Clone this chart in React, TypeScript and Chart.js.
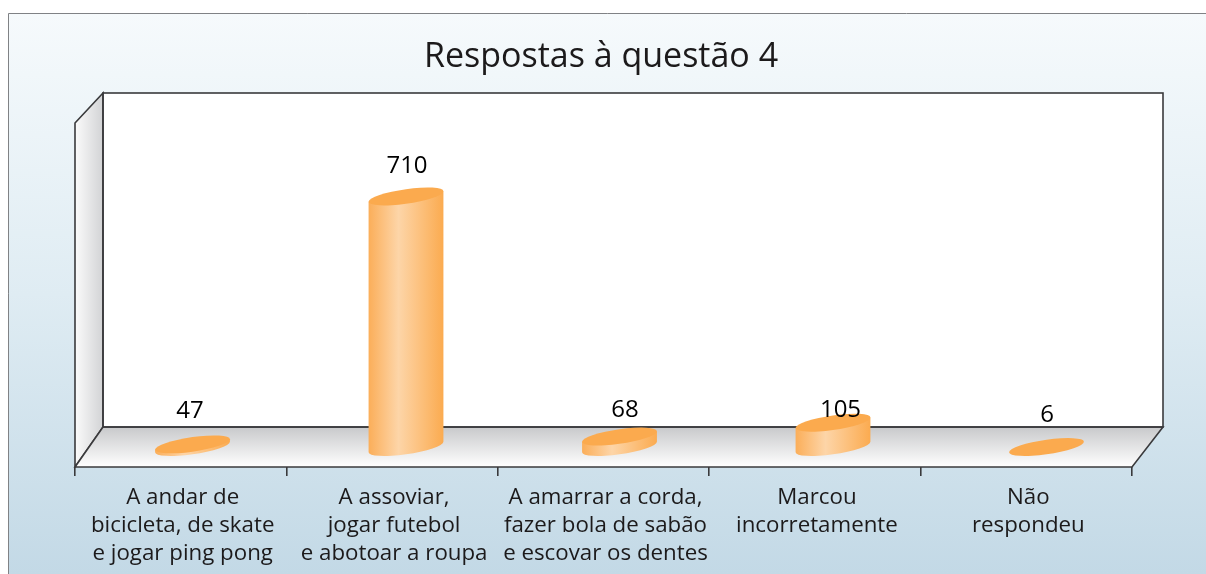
import React, { useEffect, useRef } from "react";
import { Chart, registerables } from "chart.js";

Chart.register(...registerables);

const categories: string[][] = [
  ["A andar de", "bicicleta, de skate", "e jogar ping pong"],
  ["A assoviar,", "jogar futebol", "e abotoar a roupa"],
  ["A amarrar a corda,", "fazer bola de sabão", "e escovar os dentes"],
  ["Marcou", "incorretamente"],
  ["Não", "respondeu"],
];
const responses: number[] = [47, 710, 68, 105, 6];
const chartTitle = "Respostas à questão 4";
const axisMin = 40;
const axisMax = 960;
// Hand placement of the value captions relative to each bar's top, as in the source figure.
const captionLift: number[] = [33, 30, 26, 13, 32];
const captionShift: number[] = [-2.5, 1, 5.5, 7.5, 0.5];

const INK = "#1c1a1b";
const LINE = "#3a3a3c";
const FONT = "'Open Sans', sans-serif";
const DEPTH_X = 28;
const DEPTH_Y_FLOOR = 40;
const DEPTH_Y_TOP = 30;
const DEPTH_X_RIGHT = 31;

const stagePlugin = {
  id: "stage",
  beforeDraw(chart: any) {
    const { ctx, chartArea, width, height } = chart;
    const { left, right, top, bottom } = chartArea;
    ctx.save();
    ctx.fillStyle = "#ffffff";
    ctx.fillRect(0, 0, width, height);
    const bg = ctx.createLinearGradient(0, 13, 0, height);
    bg.addColorStop(0, "#f6fafc");
    bg.addColorStop(0.5, "#dfecf3");
    bg.addColorStop(1, "#c3d9e6");
    ctx.fillStyle = bg;
    ctx.fillRect(8, 13, width - 8, height - 13);
    ctx.strokeStyle = "#808285";
    ctx.lineWidth = 1;
    ctx.beginPath();
    ctx.moveTo(8.5, height);
    ctx.lineTo(8.5, 13.5);
    ctx.lineTo(width, 13.5);
    ctx.stroke();

    const bl = left + DEPTH_X;
    const br = right + DEPTH_X_RIGHT;
    const bt = top - DEPTH_Y_TOP;
    const bb = bottom - DEPTH_Y_FLOOR;

    ctx.lineWidth = 1.6;
    ctx.strokeStyle = LINE;
    ctx.lineJoin = "miter";

    ctx.fillStyle = "#ffffff";
    ctx.fillRect(bl, bt, br - bl, bb - bt);

    const wall = ctx.createLinearGradient(left, 0, bl, 0);
    wall.addColorStop(0, "#fbfbfb");
    wall.addColorStop(1, "#d2d3d5");
    ctx.fillStyle = wall;
    ctx.beginPath();
    ctx.moveTo(left, top);
    ctx.lineTo(bl, bt);
    ctx.lineTo(bl, bb);
    ctx.lineTo(left, bottom);
    ctx.closePath();
    ctx.fill();
    ctx.stroke();

    const floor = ctx.createLinearGradient(0, bb, 0, bottom);
    floor.addColorStop(0, "#c8c9cb");
    floor.addColorStop(1, "#ffffff");
    ctx.fillStyle = floor;
    ctx.beginPath();
    ctx.moveTo(bl, bb);
    ctx.lineTo(br, bb);
    ctx.lineTo(right, bottom);
    ctx.lineTo(left, bottom);
    ctx.closePath();
    ctx.fill();
    ctx.stroke();

    ctx.strokeRect(bl, bt, br - bl, bb - bt);
    ctx.restore();
  },
};

const SHEAR = 0.14;
const MINOR = 7.3;
const SPREAD = 213.5 / 211.4;

const cylinderPlugin = {
  id: "cylinders",
  beforeDatasetDraw(chart: any, args: any) {
    const { ctx, chartArea, scales } = chart;
    const meta = args.meta;
    const y = scales.y;
    const x0 = scales.x.getPixelForValue(0);
    meta.data.forEach((el: any, i: number) => {
      const cx = x0 + 11.8 + (el.x - x0) * SPREAD;
      const a = el.width / 2;
      const base = el.base - DEPTH_Y_FLOOR / 2;
      const head = Math.min(y.getPixelForValue(responses[i]), chartArea.bottom) - DEPTH_Y_FLOOR / 2;
      const local = head - base;

      ctx.save();
      ctx.translate(cx, base);
      ctx.transform(1, -SHEAR, 0, 1, 0, 0);

      if (local < 0) {
        const g = ctx.createLinearGradient(-a, 0, a, 0);
        g.addColorStop(0, "#fbae59");
        g.addColorStop(0.4, "#fdd5a8");
        g.addColorStop(1, "#fbab50");
        ctx.fillStyle = g;
        ctx.beginPath();
        ctx.moveTo(-a, local);
        ctx.lineTo(-a, 0);
        ctx.ellipse(0, 0, a, MINOR, 0, Math.PI, 0, true);
        ctx.lineTo(a, local);
        ctx.closePath();
        ctx.fill();
      }
      ctx.fillStyle = "#fbaa4e";
      ctx.beginPath();
      ctx.ellipse(0, local, a, MINOR, 0, 0, Math.PI * 2);
      ctx.fill();
      ctx.restore();

      ctx.save();
      ctx.fillStyle = "#000000";
      ctx.font = `24px ${FONT}`;
      ctx.textAlign = "center";
      ctx.textBaseline = "middle";
      ctx.fillText(String(responses[i]), cx + captionShift[i], head - captionLift[i]);
      ctx.restore();
    });
    return false;
  },
};

export default function App() {
  const ref = useRef<HTMLCanvasElement | null>(null);

  useEffect(() => {
    if (!ref.current) return;
    const chart = new Chart(ref.current, {
      type: "bar",
      data: {
        labels: categories as any,
        datasets: [
          {
            label: chartTitle,
            data: responses,
            base: axisMin,
            backgroundColor: "#fbaa4e",
            barPercentage: 0.354,
            categoryPercentage: 1,
          } as any,
        ],
      },
      plugins: [stagePlugin, cylinderPlugin],
      options: {
        responsive: false,
        animation: false,
        layout: { padding: { left: 70, right: 74, top: 0, bottom: 0 } },
        plugins: {
          legend: { display: false },
          tooltip: { enabled: false },
          title: {
            display: true,
            text: chartTitle,
            color: INK,
            font: { family: FONT, size: 34, weight: "normal", lineHeight: 1.2 },
            padding: { top: 36.6, bottom: 45.6 },
          },
        },
        scales: {
          x: {
            grid: { display: true, drawOnChartArea: false, drawTicks: true, tickLength: 9, color: LINE, lineWidth: 1.6 },
            border: { display: false },
            ticks: {
              color: INK,
              autoSkip: false,
              maxRotation: 0,
              minRotation: 0,
              padding: 8,
              labelOffset: 2,
              font: { family: FONT, size: 22.3, lineHeight: "28px" as any },
            },
            afterFit: (s: any) => {
              s.height = 107;
            },
          },
          y: {
            min: axisMin,
            max: axisMax,
            grid: { display: false },
            border: { display: false },
            ticks: { display: false },
            afterFit: (s: any) => {
              s.width = 5;
            },
          },
        },
      },
    });
    return () => chart.destroy();
  }, []);

  return (
    <canvas
      ref={ref}
      width={1206}
      height={574}
      style={{ position: "fixed", left: 0, top: 0, display: "block" }}
    />
  );
}
